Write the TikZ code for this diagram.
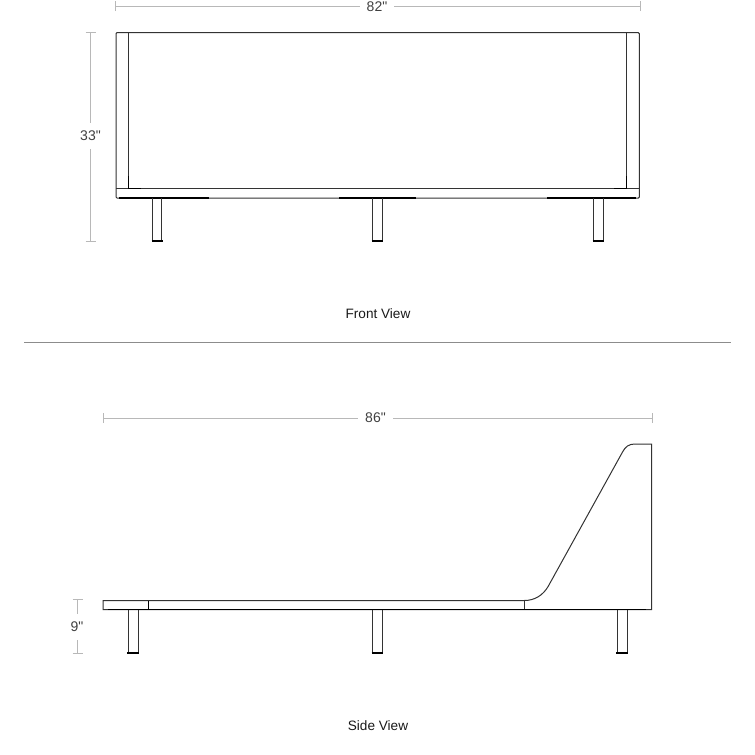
\documentclass[tikz,border=0pt]{standalone}
\usepackage{fontspec}
\setmainfont{Liberation Sans}[Ligatures=TeXOff]
\tikzset{
  outline/.style={draw=black!80, line width=1pt},
  heavy/.style={draw=black, line width=1.3pt},
  foot/.style={draw=black, line width=2pt},
  dimline/.style={draw=black!28, line width=1pt},
  dimtext/.style={text=black!75, inner sep=0pt, font=\fontsize{14}{16}\selectfont},
  viewtext/.style={text=black!90, inner sep=0pt, font=\fontsize{13.6}{16}\selectfont}
}
\begin{document}
\begin{tikzpicture}[x=1pt, y=-1pt]
\useasboundingbox (0, 0) rectangle (755, 755);

% front view
\draw[outline, rounded corners=1pt] (116, 198) -- (116, 32.7) -- (639.3, 32.7) -- (639.3, 198) -- cycle;
\draw[outline] (116, 188.5) -- (639.3, 188.5);
\draw[outline] (128.7, 188.5) -- (128.7, 32.7);
\draw[outline] (626.7, 188.5) -- (626.7, 32.7);

\draw[heavy] (128.7, 176) -- (128.7, 188.5) -- (141, 188.5);
\draw[heavy] (626.7, 176) -- (626.7, 188.5) -- (614, 188.5);
\draw[heavy] (119, 198) -- (209, 198);
\draw[heavy] (339, 198) -- (416, 198);
\draw[heavy] (547, 198) -- (636, 198);

\draw[outline] (152.5, 198) -- (152.5, 240.5) -- (161.7, 240.5) -- (161.7, 198);
\draw[outline] (372.5, 198) -- (372.5, 240.5) -- (382.3, 240.5) -- (382.3, 198);
\draw[outline] (593.5, 198) -- (593.5, 240.5) -- (603.3, 240.5) -- (603.3, 198);
\draw[foot] (151.5, 240.5) -- (162.7, 240.5);
\draw[foot] (371.5, 240.5) -- (383.3, 240.5);
\draw[foot] (592.5, 240.5) -- (604.3, 240.5);

% front dimensions
\node[dimtext] (width82) at (377, 6.5) {82"};
\coordinate (width82l) at (115, 6);
\coordinate (width82r) at (640, 6);
\draw[dimline] (width82l) -- ([xshift=-7pt]width82.west |- width82l);
\draw[dimline] (width82r) -- ([xshift=7pt]width82.east |- width82r);
\draw[dimline] ([yshift=-5pt]width82l) -- ([yshift=5pt]width82l);
\draw[dimline] ([yshift=-5pt]width82r) -- ([yshift=5pt]width82r);

\node[dimtext] (height33) at (90.5, 136) {33"};
\coordinate (height33t) at (90.7, 32.5);
\coordinate (height33b) at (90.7, 241);
\draw[dimline] (height33t) -- (90.7, 123);
\draw[dimline] (height33b) -- (90.7, 149);
\draw[dimline] ([xshift=-5pt]height33t) -- ([xshift=5pt]height33t);
\draw[dimline] ([xshift=-5pt]height33b) -- ([xshift=5pt]height33b);

\node[viewtext] (frontview) at (378, 313.5) {Front View};

% divider
\coordinate (dividerl) at (24, 342);
\coordinate (dividerr) at (731, 342);
\draw[draw=black!45, line width=1pt] (dividerl) -- (dividerr);

% side view
\draw[outline] (103, 600.5) -- (524.3, 600.5)
  .. controls (535, 600.5) and (543, 595) .. (548, 586.7)
  -- (622.7, 451.7)
  .. controls (625.5, 446.5) and (629, 444) .. (635, 444)
  -- (651.7, 444) -- (651.7, 609.5) -- (103, 609.5) -- cycle;
\draw[outline] (524.3, 600.5) -- (524.3, 609.5);
\draw[heavy] (148.3, 600.5) -- (148.3, 609.5);
\draw[heavy] (108, 609.8) -- (646, 609.8);

\draw[outline] (128.3, 609.5) -- (128.3, 652.5) -- (138, 652.5) -- (138, 609.5);
\draw[outline] (372.5, 609.5) -- (372.5, 652.5) -- (382.3, 652.5) -- (382.3, 609.5);
\draw[outline] (617.3, 609.5) -- (617.3, 652.5) -- (627, 652.5) -- (627, 609.5);
\draw[foot] (127.3, 652.5) -- (139, 652.5);
\draw[foot] (371.5, 652.5) -- (383.3, 652.5);
\draw[foot] (616.3, 652.5) -- (628, 652.5);

% side dimensions
\node[dimtext] (width86) at (375.5, 418) {86"};
\coordinate (width86l) at (103, 418);
\coordinate (width86r) at (652, 418);
\draw[dimline] (width86l) -- ([xshift=-7pt]width86.west);
\draw[dimline] (width86r) -- ([xshift=7pt]width86.east);
\draw[dimline] ([yshift=-5pt]width86l) -- ([yshift=5pt]width86l);
\draw[dimline] ([yshift=-5pt]width86r) -- ([yshift=5pt]width86r);

\node[dimtext] (height9) at (77, 627) {9"};
\coordinate (height9t) at (77.7, 599.5);
\coordinate (height9b) at (77.7, 653.7);
\draw[dimline] (height9t) -- (77.7, 614);
\draw[dimline] (height9b) -- (77.7, 640);
\draw[dimline] ([xshift=-5pt]height9t) -- ([xshift=5pt]height9t);
\draw[dimline] ([xshift=-5pt]height9b) -- ([xshift=5pt]height9b);

\node[viewtext] (sideview) at (378, 725.5) {Side View};
\end{tikzpicture}
\end{document}
